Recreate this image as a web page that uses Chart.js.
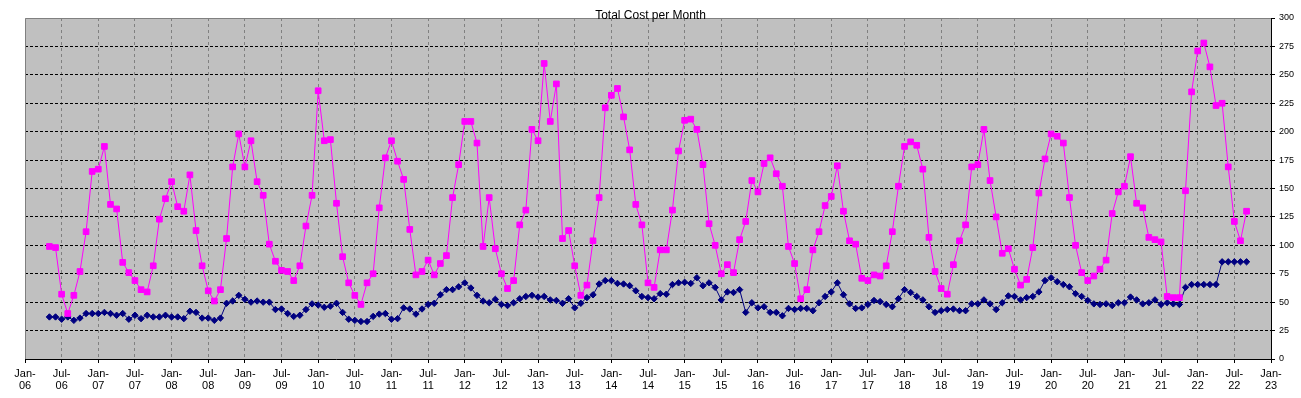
<!DOCTYPE html>
<html>
<head>
<meta charset="utf-8">
<script src="https://cdn.jsdelivr.net/npm/chart.js@4/dist/chart.umd.min.js"></script>
<style>
html,body{margin:0;padding:0;background:#fff;}
#wrap{width:1301px;height:398px;position:relative;}
</style>
</head>
<body>
<div id="wrap"><canvas id="c" width="1301" height="398"></canvas></div>
<script>
const chartTitle = "Total Cost per Month";
// x is counted in months since Jan-06; the first value belongs to May-06
const firstMonth = 4;
const axisMonths = 204; // Jan-06 .. Jan-23
const tickLabels = [
  "Jan-06","Jul-06","Jan-07","Jul-07","Jan-08","Jul-08","Jan-09","Jul-09",
  "Jan-10","Jul-10","Jan-11","Jul-11","Jan-12","Jul-12","Jan-13","Jul-13",
  "Jan-14","Jul-14","Jan-15","Jul-15","Jan-16","Jul-16","Jan-17","Jul-17",
  "Jan-18","Jul-18","Jan-19","Jul-19","Jan-20","Jul-20","Jan-21","Jul-21",
  "Jan-22","Jul-22","Jan-23"
];
const costPink = [
  99, 98, 57, 40, 56, 77, 112, 165,
  167, 187, 136, 132, 85, 76, 69, 61, 59, 82, 123, 141,
  156, 134, 130, 162, 113, 82, 60, 51, 61, 106, 169, 198,
  169, 192, 156, 144, 101, 86, 78, 77, 69, 82, 117, 144,
  236, 192, 193, 137, 90, 67, 56, 48, 67, 75, 133, 177,
  192, 174, 158, 114, 74, 77, 87, 74, 84, 91, 142, 171,
  209, 209, 190, 99, 142, 97, 75, 62, 69, 118, 131, 202,
  192, 260, 209, 242, 106, 113, 82, 56, 65, 104, 142, 221,
  232, 238, 213, 184, 136, 118, 67, 63, 96, 96, 131, 183,
  210, 211, 202, 171, 119, 100, 75, 83, 76, 105, 121, 157,
  147, 172, 177, 163, 152, 99, 84, 53, 61, 96, 112, 135,
  143, 170, 130, 104, 101, 71, 69, 74, 73, 82, 112, 152,
  187, 191, 188, 167, 107, 77, 62, 57, 83, 104, 118, 169,
  171, 202, 157, 125, 93, 97, 79, 65, 70, 98, 146, 176,
  198, 196, 190, 142, 100, 76, 69, 73, 79, 87, 128, 147,
  152, 178, 137, 133, 107, 105, 103, 55, 54, 54, 148, 235,
  271, 278, 257, 223, 225, 169, 121, 104, 130
];
const costNavy = [
  37, 37, 35, 37, 34, 36, 40, 40,
  40, 41, 40, 38.5, 40, 35, 38.5, 35.5, 38.5, 37, 37, 38.5,
  37, 37, 35.5, 42, 41, 36, 36, 34, 36, 49, 51, 56,
  52.5, 50, 51, 50, 50, 43.5, 44, 40, 37.5, 38.5, 43.5, 48.5,
  47.5, 45.5, 46.5, 49, 41, 35, 34, 33, 33, 37.5, 39.5, 40,
  35, 35.5, 45, 44, 39.5, 44, 48, 49, 56.5, 61, 61, 63.5,
  67, 62.5, 56, 51, 49.5, 52.5, 48, 47, 49.5, 53, 55, 56,
  54.5, 55, 52, 51.5, 49, 53, 45, 49, 54, 56.5, 66, 69,
  69, 66.5, 66, 64.5, 60, 55, 54, 53, 57.5, 57, 65.5, 67,
  67.5, 66.5, 71.5, 64.5, 67, 63, 52, 59, 58.5, 61, 41, 49.5,
  45, 46, 41, 41, 38, 44.5, 43.5, 44.5, 44.5, 42.5, 49.5, 55,
  59, 67, 56.5, 48.5, 44.5, 45, 48, 51.5, 50.5, 48, 46, 53,
  61, 58.5, 55, 52, 46, 41, 42.5, 43.5, 44, 42.5, 42.5, 48.5,
  48.5, 52, 48.5, 43.5, 49.5, 55.5, 55, 52, 54, 55, 59, 69,
  71.5, 68, 65.5, 63.5, 57.5, 55, 51.5, 48.5, 48, 48.5, 47, 49.5,
  49.5, 54.5, 52, 48.5, 49.5, 52, 48, 49.5, 48.5, 48, 63, 65.5,
  65.5, 65.5, 65.5, 65.5, 85.5, 85.5, 85.5, 85.5, 85.5
];

const FONT = "'Liberation Sans', Arial, sans-serif";
const toPoints = arr => arr.map((v, i) => ({ x: firstMonth + i, y: v }));

const plotDecor = {
  id: 'plotDecor',
  beforeDraw(chart) {
    const { ctx, chartArea: a } = chart;
    ctx.save();
    ctx.fillStyle = '#ffffff';
    ctx.fillRect(0, 0, chart.width, chart.height);
    ctx.fillStyle = '#c0c0c0';
    ctx.fillRect(a.left, a.top, a.right - a.left, a.bottom - a.top);
    ctx.restore();
  },
  afterDraw(chart) {
    const { ctx, chartArea: a } = chart;
    ctx.save();
    ctx.strokeStyle = '#808080';
    ctx.lineWidth = 1;
    ctx.beginPath();
    ctx.moveTo(Math.round(a.left) + 0.5, Math.round(a.bottom));
    ctx.lineTo(Math.round(a.left) + 0.5, Math.round(a.top) + 0.5);
    ctx.lineTo(Math.round(a.right), Math.round(a.top) + 0.5);
    ctx.stroke();
    ctx.fillStyle = '#000';
    ctx.font = '12px ' + FONT;
    ctx.textAlign = 'center';
    ctx.textBaseline = 'alphabetic';
    ctx.fillText(chartTitle, chart.width / 2, a.top + 1);
    ctx.restore();
  }
};

new Chart(document.getElementById('c'), {
  type: 'line',
  data: {
    datasets: [
      {
        label: 'Pink',
        data: toPoints(costPink),
        borderColor: '#ff00ff',
        backgroundColor: '#ff00ff',
        borderWidth: 1,
        pointStyle: 'rect',
        pointRadius: 4,
        pointBorderWidth: 1,
        tension: 0,
        fill: false
      },
      {
        label: 'Navy',
        data: toPoints(costNavy),
        borderColor: '#000080',
        backgroundColor: '#000080',
        borderWidth: 1,
        pointStyle: 'rectRot',
        pointRadius: 3.2,
        pointBorderWidth: 1,
        tension: 0,
        fill: false
      }
    ]
  },
  options: {
    responsive: false,
    animation: false,
    devicePixelRatio: 1,
    layout: { padding: { left: 25, top: 18, right: 0, bottom: 0 } },
    plugins: {
      legend: { display: false },
      tooltip: { enabled: false },
      title: { display: false }
    },
    scales: {
      x: {
        type: 'linear',
        position: 'bottom',
        min: 0,
        max: axisMonths,
        afterFit: s => { s.height = 39; },
        ticks: {
          stepSize: 6,
          autoSkip: false,
          maxRotation: 0,
          minRotation: 0,
          padding: 5,
          color: '#000',
          font: { size: 11, family: FONT, lineHeight: 1.1 },
          callback: v => {
            const l = tickLabels[Math.round(v / 6)];
            return l ? [l.slice(0, 4), l.slice(4)] : '';
          }
        },
        grid: {
          color: c => (c.tick && (c.tick.value === 0 || c.tick.value === axisMonths)) ? 'rgba(0,0,0,0)' : '#808080',
          lineWidth: 1,
          tickColor: '#000',
          tickLength: 4,
          tickBorderDash: []
        },
        border: { display: true, color: '#000', width: 1, dash: [3, 3] }
      },
      y: {
        type: 'linear',
        position: 'right',
        min: 0,
        max: 300,
        afterFit: s => { s.width = 30; },
        ticks: {
          stepSize: 25,
          padding: 4,
          color: '#000',
          font: { size: 9, family: FONT }
        },
        grid: {
          color: c => (c.tick && (c.tick.value === 0 || c.tick.value === 300)) ? 'rgba(0,0,0,0)' : '#000',
          lineWidth: 1,
          tickColor: '#000',
          tickLength: 4,
          tickBorderDash: []
        },
        border: { display: true, color: '#000', width: 1, dash: [3, 2] }
      }
    }
  },
  plugins: [plotDecor]
});
</script>
</body>
</html>
